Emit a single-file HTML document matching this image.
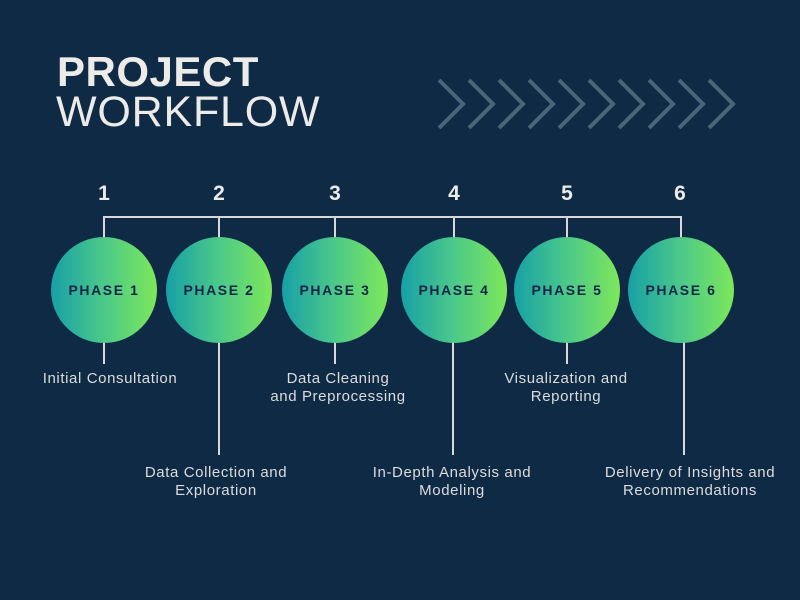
<!DOCTYPE html>
<html><head><meta charset="utf-8"><style>
html,body{margin:0;padding:0}
body{width:800px;height:600px;background:#0e2a44;position:relative;overflow:hidden;font-family:"Liberation Sans",sans-serif}
.t{position:absolute;color:#ecebe8;white-space:nowrap}
.lbl{position:absolute;color:#dcdcdc;font-size:15px;letter-spacing:0.6px;line-height:18px;text-align:center;white-space:nowrap;transform:translateX(-50%)}
.num{position:absolute;top:182px;color:#ecebe8;font-weight:bold;font-size:21px;transform:translateX(-50%)}
.c{position:absolute;top:237px;width:106px;height:106px;border-radius:50%;background:linear-gradient(90deg,#17a0a6,#4cc989 50%,#7de75a);display:flex;align-items:center;justify-content:center;color:#13264a;font-weight:bold;font-size:14px;letter-spacing:1.6px;margin-left:-53px}
</style></head><body>
<div class="t" style="left:57px;top:48px;font-size:42px;font-weight:bold;letter-spacing:0.5px">PROJECT</div>
<div class="t" style="left:56px;top:88px;font-size:43px;font-weight:normal;letter-spacing:0.8px">WORKFLOW</div>
<svg width="800" height="600" style="position:absolute;left:0;top:0">
<g stroke="#4a6478" stroke-width="4" fill="none">
<path d="M439 80 L463 104 L439 128"/><path d="M469 80 L493 104 L469 128"/><path d="M499 80 L523 104 L499 128"/><path d="M529 80 L553 104 L529 128"/><path d="M559 80 L583 104 L559 128"/><path d="M589 80 L613 104 L589 128"/><path d="M619 80 L643 104 L619 128"/><path d="M649 80 L673 104 L649 128"/><path d="M679 80 L703 104 L679 128"/><path d="M709 80 L733 104 L709 128"/>
</g>
<g stroke="#d8d8d8" stroke-width="2" fill="none">
<path d="M104 240 V217 H681 V240"/>
<path d="M219 217 V240"/><path d="M335 217 V240"/><path d="M454 217 V240"/><path d="M567 217 V240"/>
<path d="M104 340 V364"/><path d="M219 340 V455"/><path d="M335 340 V364"/><path d="M453 340 V455"/><path d="M567 340 V364"/><path d="M684 340 V455"/>
</g>
</svg>
<div class="num" style="left:104px">1</div>
<div class="num" style="left:219px">2</div>
<div class="num" style="left:335px">3</div>
<div class="num" style="left:454px">4</div>
<div class="num" style="left:567px">5</div>
<div class="num" style="left:680px">6</div>
<div class="c" style="left:104px">PHASE 1</div>
<div class="c" style="left:219px">PHASE 2</div>
<div class="c" style="left:335px">PHASE 3</div>
<div class="c" style="left:454px">PHASE 4</div>
<div class="c" style="left:567px">PHASE 5</div>
<div class="c" style="left:681px">PHASE 6</div>
<div class="lbl" style="left:110px;top:370px">Initial Consultation</div>
<div class="lbl" style="left:216px;top:464px">Data Collection and<br>Exploration</div>
<div class="lbl" style="left:338px;top:370px">Data Cleaning<br>and Preprocessing</div>
<div class="lbl" style="left:452px;top:464px">In-Depth Analysis and<br>Modeling</div>
<div class="lbl" style="left:566px;top:370px">Visualization and<br>Reporting</div>
<div class="lbl" style="left:690px;top:464px">Delivery of Insights and<br>Recommendations</div>
</body></html>
